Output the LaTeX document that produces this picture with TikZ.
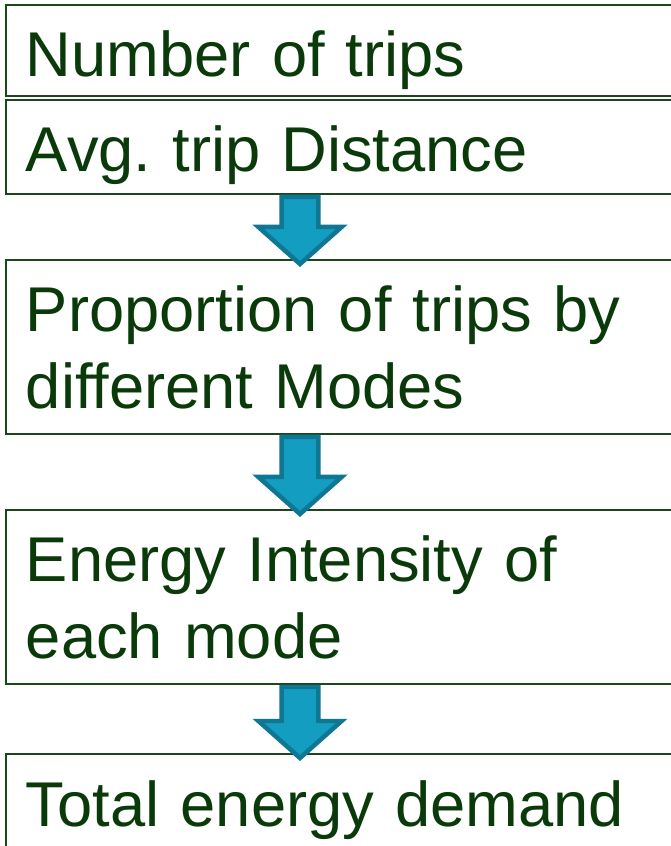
\documentclass[tikz,border=0pt]{standalone}
\usepackage{fontspec}
\setmainfont{Liberation Sans}
\usetikzlibrary{positioning, calc}
\definecolor{deepgreen}{HTML}{0A3A0A}
\definecolor{framegreen}{HTML}{1B481B}
\definecolor{arrowfill}{HTML}{139DC0}
\definecolor{arrowedge}{HTML}{0F7793}

% block arrow from the bottom of one stage to the top of the next
\newcommand{\stagearrow}[2]{%
  \path ($(#2.north -| axis)+(0,-0.1)$) coordinate (tip)
        ++(0,0.925) coordinate (neck);
  \draw[flowarrow] ($(#1.south -| axis)+(-0.46,-0.075)$)
    -- ($(#1.south -| axis)+(0.46,-0.075)$)
    -- ($(neck)+(0.46,0)$) -- ($(neck)+(1.04,0)$)
    -- (tip)
    -- ($(neck)+(-1.04,0)$) -- ($(neck)+(-0.46,0)$) -- cycle;
}

\begin{document}
\frenchspacing
\begin{tikzpicture}[
  stage/.style={draw=framegreen, line width=1.4pt, text=deepgreen,
    font=\fontsize{45}{54.6}\selectfont, align=left, text width=17cm,
    inner xsep=0.5cm, inner ysep=0pt, outer sep=0pt, text height=1.8cm},
  flowarrow/.style={fill=arrowfill, draw=arrowedge, line width=3.2pt,
    line join=miter}
]

% Page frame (boxes run off the right and bottom edges)
\useasboundingbox (0,0) rectangle (16.775,21.15);
\clip (0,0) rectangle (16.775,21.15);

% x position of the arrows
\coordinate (axis) at (7.5,0);

% Stages
\node[stage, anchor=north west, text depth=0.475cm] (trips) at (0.15,21.025)
  {Number of trips};
\node[stage, below=0.1cm of trips.south west, anchor=north west,
  text depth=0.55cm] (dist) {Avg. trip Distance};
\node[stage, below=1.65cm of dist.south west, anchor=north west,
  text depth=2.55cm] (modes) {Proportion of trips by\\different Modes};
\node[stage, below=1.9cm of modes.south west, anchor=north west,
  text depth=2.55cm] (intens) {Energy Intensity of\\each mode};
\node[stage, below=1.75cm of intens.south west, anchor=north west,
  text depth=2cm] (total) {Total energy demand};

% Arrows
\stagearrow{dist}{modes}
\stagearrow{modes}{intens}
\stagearrow{intens}{total}

\end{tikzpicture}
\end{document}
